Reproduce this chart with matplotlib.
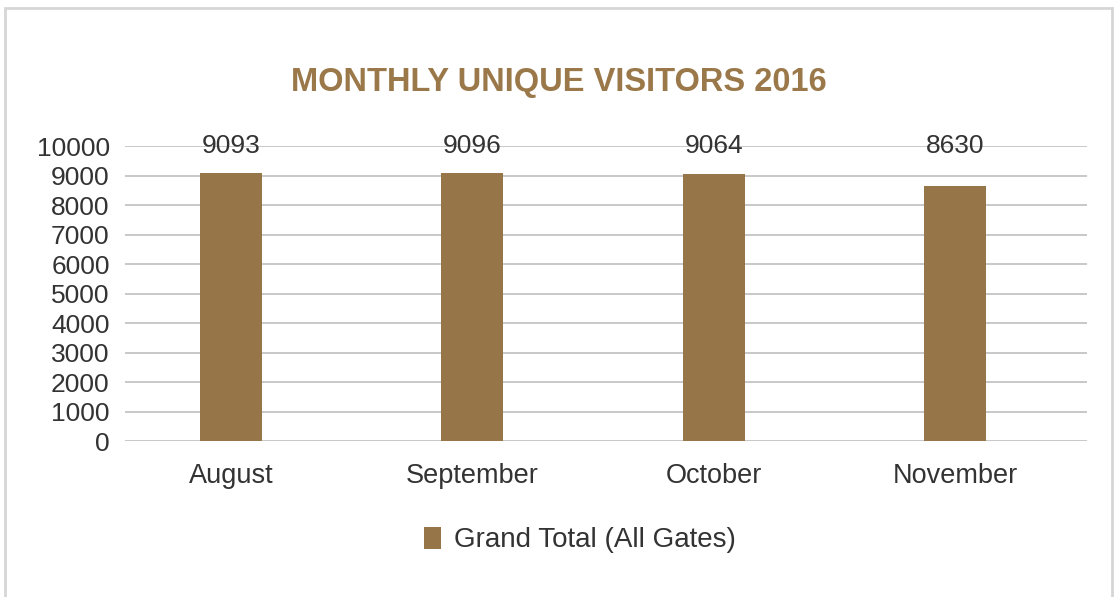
import matplotlib.pyplot as plt
from matplotlib.patches import Rectangle

months = ['August', 'September', 'October', 'November']
visitors = [9093, 9096, 9064, 8630]
series_name = 'Grand Total (All Gates)'
yticks = list(range(0, 10001, 1000))

bar_color = '#967548'
title_color = '#9a7849'
text_color = '#333333'

plt.rcParams['font.family'] = ['Liberation Sans', 'DejaVu Sans']

fig = plt.figure(figsize=(11.14, 5.97), dpi=100)
ax = fig.add_axes([0.1122, 0.2613, 0.8636, 0.4941])

# outer frame
fig.patches.append(Rectangle((5 / 1114, -0.05), 1107 / 1114, 1.05 - 8 / 597,
                             transform=fig.transFigure, fill=False,
                             edgecolor='#d6d6d6', linewidth=2))

x = range(len(months))
ax.bar(x, visitors, width=0.257, color=bar_color, label=series_name, zorder=3)
for i, v in zip(x, visitors):
    ax.text(i, 10000, str(v), ha='center', va='center', fontsize=19,
            color=text_color, zorder=4)

ax.set_xlim(-0.439, 3.547)
ax.set_ylim(0, 10000)
ax.set_yticks(yticks)
ax.set_xticks(list(x))
ax.set_xticklabels(months)
ax.yaxis.grid(True, color='#c8c8c8', linewidth=1.4, zorder=0)
ax.set_axisbelow(True)
for s in ax.spines.values():
    s.set_visible(False)
ax.tick_params(axis='both', length=0, labelsize=19, labelcolor=text_color)
ax.tick_params(axis='x', labelsize=19.5, pad=16)
ax.tick_params(axis='y', pad=11)

fig.text(0.5015, 0.862, 'MONTHLY UNIQUE VISITORS 2016', ha='center', va='center',
         fontsize=23.5, fontweight='bold', color=title_color)

leg = ax.legend(loc='center', bbox_to_anchor=(0.5207, 0.0955),
                bbox_transform=fig.transFigure, frameon=False,
                prop={'size': 20},
                handlelength=0.62, handleheight=0.85, handletextpad=0.45)
for t in leg.get_texts():
    t.set_color(text_color)

fig.savefig('out.png', dpi=100, facecolor='white')
